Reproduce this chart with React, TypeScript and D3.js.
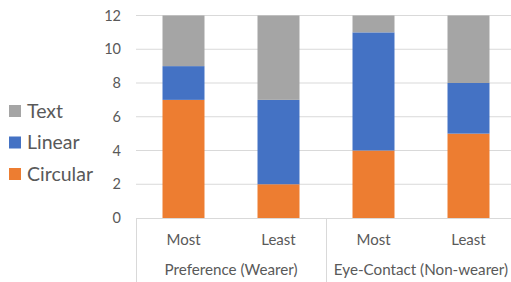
import React from 'react'
import * as d3 from 'd3'

const groups = ['Preference (Wearer)', 'Eye-Contact (Non-wearer)']
const subLabels = ['Most', 'Least', 'Most', 'Least']
const seriesNames = ['Circular', 'Linear', 'Text']
const circular = [7, 2, 4, 5]
const linear = [2, 5, 7, 3]
const text = [3, 5, 1, 4]
const yTicks = [0, 2, 4, 6, 8, 10, 12]
const colors = ['#ED7D31', '#4472C4', '#A5A5A5']

const W = 511
const H = 282
const left = 136
const right = 516
const top = 15.5
const bottom = 218
const font = 'Lato, "Open Sans", sans-serif'
const textColor = '#595959'

export default function App() {
  const rows = subLabels.map((_, i) => ({ key: i, Circular: circular[i], Linear: linear[i], Text: text[i] }))
  const stack = d3.stack<any>().keys(seriesNames)(rows)
  const x = d3.scaleBand<number>().domain(d3.range(subLabels.length)).range([left, right]).paddingInner(0.558).paddingOuter(0.279)
  const y = d3.scaleLinear().domain([0, 12]).range([bottom, top])
  const step = x.step()

  const legendOrder = [2, 1, 0]

  return (
    <svg width={W} height={H} style={{ position: 'absolute', left: 0, top: 0, background: '#fff' }} fontFamily={font}>
      {yTicks.map((t) => (
        <g key={t}>
          {t > 0 && <line x1={left} x2={W} y1={y(t)} y2={y(t)} stroke="#D9D9D9" strokeWidth={1} />}
          <text x={121} y={y(t)} dy="0.35em" textAnchor="end" fontSize={14.5} fill={textColor}>{t}</text>
        </g>
      ))}
      {stack.map((s, si) => (
        <g key={s.key} fill={colors[si]}>
          {s.map((d, i) => (
            <rect key={i} x={x(i)} width={x.bandwidth()} y={y(d[1])} height={y(d[0]) - y(d[1])} />
          ))}
        </g>
      ))}
      <line x1={left} x2={W} y1={bottom + 0.5} y2={bottom + 0.5} stroke="#D9D9D9" />
      {[0, 2, 4].map((i) => (
        <line key={i} x1={left + i * step + 0.5} x2={left + i * step + 0.5} y1={bottom} y2={H} stroke="#D9D9D9" />
      ))}
      {subLabels.map((l, i) => (
        <text key={i} x={x(i)! + x.bandwidth() / 2} y={240} dy="0.35em" textAnchor="middle" fontSize={15} fill={textColor}>{l}</text>
      ))}
      {groups.map((g, gi) => (
        <text key={g} x={left + (gi * 2 + 1) * step} y={270} dy="0.35em" textAnchor="middle" fontSize={15.2} fill={textColor}>{g}</text>
      ))}
      {legendOrder.map((si, k) => (
        <g key={si} transform={`translate(9,${111 + k * 31.5})`}>
          <rect x={0} y={-6} width={12} height={12} fill={colors[si]} />
          <text x={18} y={0} dy="0.35em" fontSize={19.5} fill={textColor}>{seriesNames[si]}</text>
        </g>
      ))}
    </svg>
  )
}
